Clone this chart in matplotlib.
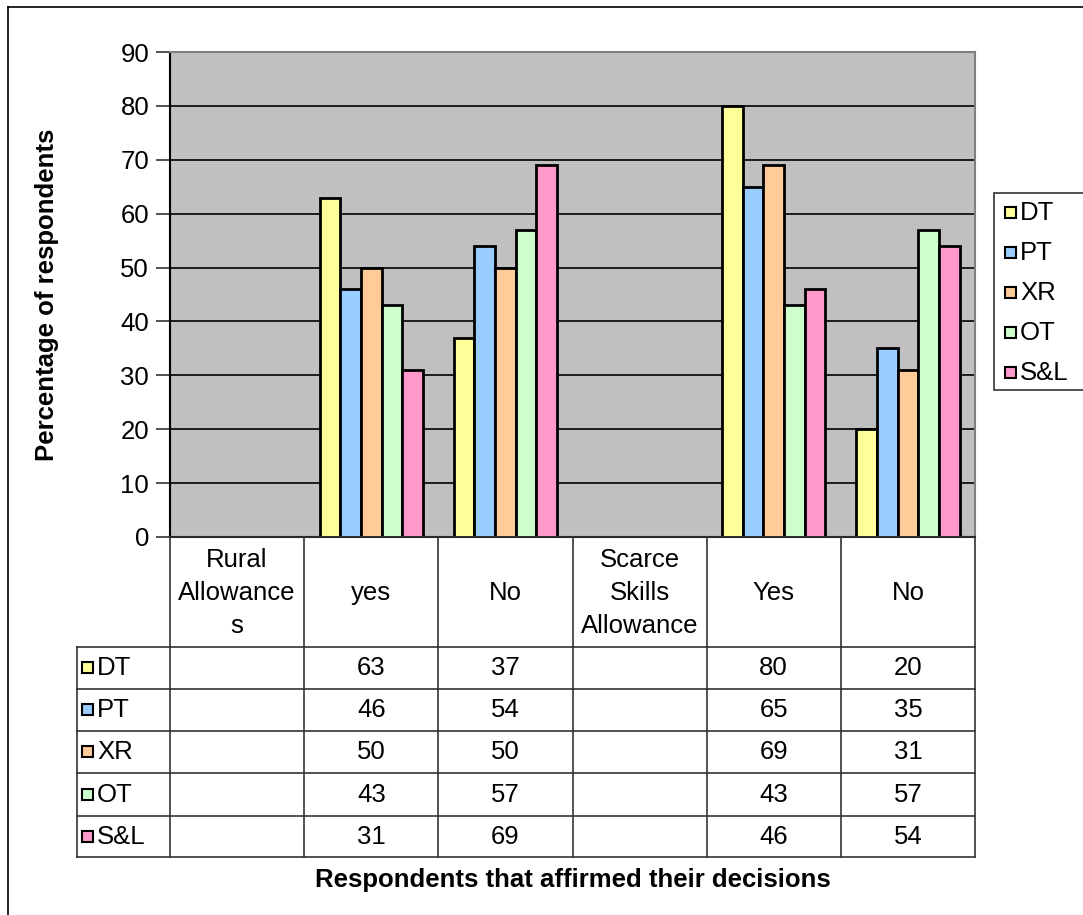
import numpy as np
import matplotlib.pyplot as plt
from matplotlib.patches import Rectangle

plt.rcParams['font.family'] = ['Liberation Sans', 'DejaVu Sans']

categories = ['Rural\nAllowance\ns', 'yes', 'No', 'Scarce\nSkills\nAllowance', 'Yes', 'No']
series = ['DT', 'PT', 'XR', 'OT', 'S&L']
DT = [None, 63, 37, None, 80, 20]
PT = [None, 46, 54, None, 65, 35]
XR = [None, 50, 50, None, 69, 31]
OT = [None, 43, 57, None, 43, 57]
SL = [None, 31, 69, None, 46, 54]
values = [DT, PT, XR, OT, SL]
colors = ['#FFFF99', '#99CCFF', '#FFCC99', '#CCFFCC', '#FF99CC']

FS = 18.5
W, H = 1083, 915
fig = plt.figure(figsize=(W / 100, H / 100), dpi=100)

# pixel layout of the plot area
L, R, T, B = 170, 975, 52, 537
ax = fig.add_axes([L / W, 1 - B / H, (R - L) / W, (B - T) / H])
ax.set_facecolor('#C0C0C0')

n = len(categories)
x = np.arange(n)
bw = 0.77 / len(series)
for i, (s, v, c) in enumerate(zip(series, values, colors)):
    xs = [x[j] + (i - 2) * bw for j in range(n) if v[j] is not None]
    ys = [v[j] for j in range(n) if v[j] is not None]
    ax.bar(xs, ys, width=bw, color=c, edgecolor='black', linewidth=2, zorder=3, label=s)

ax.set_xlim(-0.5, n - 0.5)
ax.set_ylim(0, 90)
ax.set_yticks(range(0, 91, 10))
ax.yaxis.grid(True, color='black', linewidth=1.2, zorder=1)
ax.set_xticks([])
ax.tick_params(axis='y', length=10, width=1.2, labelsize=FS, pad=5, color='#333333')
for sp in ['top', 'right']:
    ax.spines[sp].set_color('#808080')
    ax.spines[sp].set_linewidth(1.5)
ax.spines['left'].set_linewidth(1.5)
ax.spines['bottom'].set_linewidth(1.5)

# overlay in pixel coords for table, legend, frame
ov = fig.add_axes([0, 0, 1, 1], facecolor='none')
ov.set_xlim(0, W)
ov.set_ylim(H, 0)
ov.axis('off')

ov.text(47, (T + B) / 2, 'Percentage of respondents', rotation=90, ha='center', va='center',
        fontsize=FS, fontweight='bold')

col_w = (R - L) / n
row_top = [537, 647, 689, 731, 773, 816, 857]
tl = 77
lc = '#333333'
# horizontal lines
ov.plot([L, R], [row_top[0], row_top[0]], color=lc, lw=1.2)
for yy in row_top[1:]:
    ov.plot([tl, R], [yy, yy], color=lc, lw=1.2)
# vertical lines
for k in range(n + 1):
    xx = L + k * col_w
    ov.plot([xx, xx], [row_top[0], row_top[-1]], color=lc, lw=1.2)
ov.plot([tl, tl], [row_top[1], row_top[-1]], color=lc, lw=1.2)

for k, cat in enumerate(categories):
    ov.text(L + (k + 0.5) * col_w, (row_top[0] + row_top[1]) / 2 + 1, cat,
            ha='center', va='center', fontsize=FS, linespacing=1.45)

for i, (s, v, c) in enumerate(zip(series, values, colors)):
    yc = (row_top[i + 1] + row_top[i + 2]) / 2
    ov.add_patch(Rectangle((82, yc - 6), 11, 11, facecolor=c, edgecolor='black', lw=1.5))
    ov.text(97, yc, s, ha='left', va='center', fontsize=FS)
    for k in range(n):
        if v[k] is not None:
            ov.text(L + (k + 0.5) * col_w, yc, str(v[k]), ha='center', va='center', fontsize=FS)

ov.text((L + R) / 2, 880, 'Respondents that affirmed their decisions', ha='center', va='center',
        fontsize=FS, fontweight='bold')

# legend box
ov.add_patch(Rectangle((994, 193), 100, 197, facecolor='white', edgecolor='#333333', lw=1.2))
for i, (s, c) in enumerate(zip(series, colors)):
    yc = 213 + i * 40
    ov.add_patch(Rectangle((1005, yc - 6), 11, 11, facecolor=c, edgecolor='black', lw=1.5))
    ov.text(1020, yc, s, ha='left', va='center', fontsize=FS)

# outer chart frame
ov.plot([8, 8], [H + 5, 7], color='black', lw=1.2)
ov.plot([8, W + 5], [7, 7], color='black', lw=1.2)

fig.savefig('out.png', dpi=100)
